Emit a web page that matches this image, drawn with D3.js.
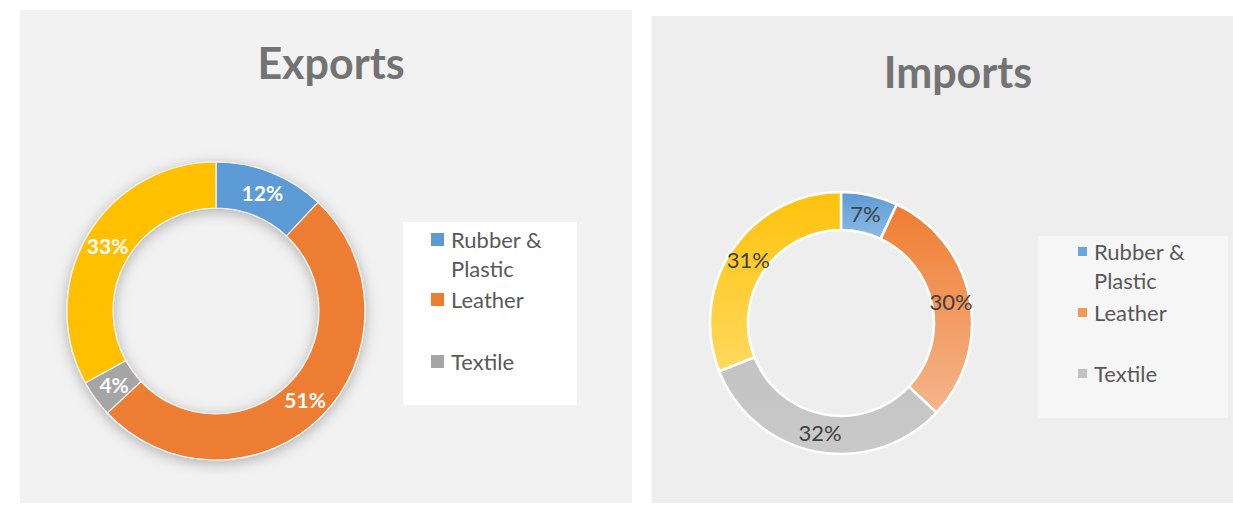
<!DOCTYPE html>
<html>
<head>
<meta charset="utf-8">
<script src="https://cdn.jsdelivr.net/npm/d3@7"></script>
<style>
  html, body { margin: 0; padding: 0; background: #ffffff; }
  svg { display: block; }
</style>
</head>
<body>
<svg id="chart" width="1233" height="515"></svg>
<script>
// Trade composition by product group, shares in percent
const categories = ["Rubber & Plastic", "Leather", "Textile", "Other"];
const exportShares = [12, 51, 4, 33];
const importShares = [7, 30, 32, 31];
const legendLines = [["Rubber &", "Plastic"], ["Leather"], ["Textile"]];
const exportColors = ["#5b9bd5", "#ed7d31", "#a5a5a5", "#ffc000"];
const importTop = ["#5b9bd5", "#ef7d30", "#c3c3c3", "#ffc20c"];
const importBottom = ["#8dbbe6", "#f5b58c", "#c9c9c9", "#ffd95e"];

const svg = d3.select("#chart");
const defs = svg.append("defs");

// soft glow beneath the exports ring
const glow = defs.append("filter").attr("id", "ringShadow")
  .attr("x", "-30%").attr("y", "-30%").attr("width", "160%").attr("height", "160%");
glow.append("feGaussianBlur").attr("in", "SourceAlpha").attr("stdDeviation", 7).attr("result", "b");
glow.append("feOffset").attr("in", "b").attr("dy", 3).attr("result", "o");
glow.append("feFlood").attr("flood-color", "#000").attr("flood-opacity", 0.28);
glow.append("feComposite").attr("in2", "o").attr("operator", "in").attr("result", "s");
const mg = glow.append("feMerge");
mg.append("feMergeNode").attr("in", "s");
mg.append("feMergeNode").attr("in", "SourceGraphic");

// vertical gradients for the imports ring
importTop.forEach((c, i) => {
  const g = defs.append("linearGradient").attr("id", "imp" + i)
    .attr("x1", 0).attr("y1", 0).attr("x2", 0).attr("y2", 1);
  g.append("stop").attr("offset", "0%").attr("stop-color", c);
  g.append("stop").attr("offset", "100%").attr("stop-color", importBottom[i]);
});

// panel backgrounds
svg.append("rect").attr("x", 20).attr("y", 10).attr("width", 612).attr("height", 493).attr("fill", "#f2f2f2");
svg.append("rect").attr("x", 652).attr("y", 16).attr("width", 581).attr("height", 487).attr("fill", "#eeeeee");

const pie = d3.pie().sort(null).value(d => d);

function donut(opts) {
  const g = svg.append("g").attr("transform", `translate(${opts.cx},${opts.cy})`);
  const arc = d3.arc().innerRadius(opts.inner).outerRadius(opts.outer);
  const arcs = pie(opts.values);
  const ring = g.append("g");
  if (opts.filter) ring.attr("filter", opts.filter);
  ring.selectAll("path").data(arcs).join("path")
    .attr("d", arc)
    .attr("fill", (d, i) => opts.fill(i))
    .attr("stroke", opts.stroke)
    .attr("stroke-width", opts.strokeWidth);
  g.selectAll("text").data(arcs).join("text")
    .attr("transform", d => `translate(${arc.centroid(d)})`)
    .attr("text-anchor", "middle")
    .attr("dy", "0.36em")
    .attr("font-family", "Lato, 'Open Sans', sans-serif")
    .attr("font-size", opts.labelSize)
    .attr("font-weight", opts.labelWeight)
    .attr("fill", opts.labelColor)
    .text(d => d.data + "%");
}

function title(text, x, y) {
  svg.append("text").attr("x", x).attr("y", y)
    .attr("text-anchor", "middle")
    .attr("font-family", "Lato, 'Open Sans', sans-serif")
    .attr("font-weight", 700).attr("font-size", 43)
    .attr("fill", "#737373")
    .text(text);
}

function legend(opts) {
  const g = svg.append("g");
  g.append("rect").attr("x", opts.x).attr("y", opts.y).attr("width", opts.w).attr("height", opts.h)
    .attr("fill", opts.bg);
  legendLines.forEach((lines, i) => {
    const base = opts.baselines[i];
    g.append("rect")
      .attr("x", opts.sx).attr("y", base - opts.sq - opts.sqLift)
      .attr("width", opts.sq).attr("height", opts.sq)
      .attr("fill", opts.colors[i]);
    const t = g.append("text")
      .attr("x", opts.tx).attr("y", base)
      .attr("font-family", "Lato, 'Open Sans', sans-serif")
      .attr("font-size", 22).attr("fill", "#595959");
    lines.forEach((ln, j) => {
      t.append("tspan").attr("x", opts.tx).attr("dy", j === 0 ? 0 : 29).text(ln);
    });
  });
}

// Exports
title("Exports", 331, 79);
donut({
  cx: 216, cy: 311, outer: 149, inner: 103,
  values: exportShares,
  fill: i => exportColors[i],
  stroke: "#f4f4f4", strokeWidth: 1.2,
  filter: "url(#ringShadow)",
  labelSize: 21, labelWeight: 700, labelColor: "#ffffff"
});
legend({
  x: 403, y: 222, w: 174, h: 183, bg: "#ffffff",
  sx: 431, tx: 451, sq: 13, sqLift: 2,
  baselines: [248, 308, 370],
  colors: exportColors
});

// Imports
title("Imports", 958, 88);
donut({
  cx: 841, cy: 323, outer: 131, inner: 93,
  values: importShares,
  fill: i => `url(#imp${i})`,
  stroke: "#ffffff", strokeWidth: 2.5,
  filter: null,
  labelSize: 22, labelWeight: 400, labelColor: "#404040"
});
legend({
  x: 1038, y: 236, w: 190, h: 182, bg: "#f6f6f6",
  sx: 1078, tx: 1094, sq: 9, sqLift: 4,
  baselines: [260, 321, 382],
  colors: ["#6aa7de", "#f29a5c", "#c3c3c3"]
});
</script>
</body>
</html>
